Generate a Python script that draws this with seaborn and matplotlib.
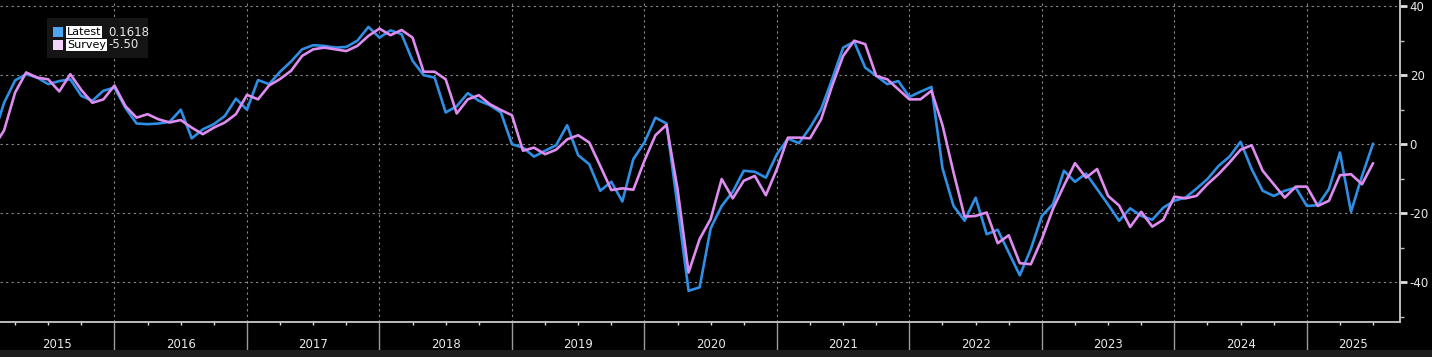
import numpy as np
import pandas as pd
import matplotlib
matplotlib.use("Agg")
import matplotlib.pyplot as plt
import matplotlib.transforms as mtransforms
from matplotlib.patches import Rectangle
import seaborn as sns

# ---- data (monthly, Jan 2015 .. Jun 2025) ----
dates = pd.date_range("2015-01-31", periods=126, freq="ME")
latest = [
    2, 12, 18.5, 20.3, 19.3, 17.4, 18.3, 18.8, 14, 12.6, 15.5, 16.4,
    10.5, 6, 5.8, 6, 6.5, 10, 1.7, 4.3, 5.8, 8.2, 13.2, 10,
    18.6, 17.4, 21, 24, 27.5, 28.7, 28.5, 28, 28.2, 30, 34, 30.9,
    33, 31.9, 24.2, 20, 19.3, 9.2, 11, 14.8, 12.6, 11.3, 9.2, 0,
    -1, -3.6, -1.9, -0.3, 5.5, -3.2, -5.8, -13.5, -10.9, -16.6, -4.3, 0.5,
    7.7, 6, -18, -42.5, -41.5, -24.4, -17.9, -13.8, -7.7, -8, -9.7, -2.9,
    1.6, 0.3, 4.8, 10.1, 18.8, 28, 29.7, 22.2, 19.8, 17.4, 18.3, 13.7,
    15.2, 16.6, -7, -17.9, -22.2, -15.5, -26.1, -24.8, -31.4, -38, -30.4, -20.8,
    -17.4, -7.7, -10.9, -8.5, -13, -17.5, -22.2, -18.6, -20.8, -21.9, -18.4, -16.4,
    -15.5, -12.9, -10.1, -6.3, -3.6, 0.7, -7.2, -13.5, -15, -13.5, -12.6, -17.9,
    -17.7, -13, -2.4, -19.6, -9.2, 0.1618,
]
survey = [
    -1, 4, 15, 20.8, 19.3, 18.8, 15.3, 20.3, 15.7, 12, 13, 17,
    11, 7.7, 8.7, 7.2, 6.3, 7, 4.8, 2.9, 4.8, 6.3, 8.7, 14.3,
    13, 17, 18.9, 21.3, 25.6, 27.5, 28, 27.5, 27, 28.5, 31.4, 33.5,
    31.6, 33.1, 30.9, 21, 21, 18.8, 8.9, 13, 14.2, 11.6, 9.9, 8.4,
    -1.9, -1, -2.9, -1.6, 1.4, 2.6, 0.5, -6.3, -13.3, -12.8, -13.2, -4.8,
    2.6, 5.6, -13, -37.2, -27.5, -21.7, -10.1, -15.7, -10.6, -9.2, -14.8, -7.2,
    1.9, 1.9, 1.7, 7.2, 16.9, 25.6, 30, 29, 19.8, 18.8, 15.9, 13,
    13, 15.5, 5.5, -8.2, -21, -20.8, -19.8, -28.7, -26.4, -34.5, -34.8, -27.5,
    -18.8, -12, -5.5, -9.7, -7.2, -15, -17.8, -24, -19.6, -23.9, -21.9, -15.2,
    -15.7, -15, -11.6, -8.7, -5.3, -1.6, -0.3, -7.7, -11.6, -15.5, -12.3, -12.3,
    -17.9, -16.4, -9, -8.7, -11.6, -5.5,
]
years = list(range(2015, 2026))
y_ticks = [40, 20, 0, -20, -40]
legend_names = ["Latest", "Survey"]
legend_values = ["0.1618", "-5.50"]

BLUE = "#2f8fe4"
PINK = "#de8cef"
FG = "#e8e8e8"
GRID = "#8a8a8a"

# month index: end of Jan 2015 = 1
mi = np.array([(d.year - 2015) * 12 + d.month for d in dates], dtype=float)
df = pd.DataFrame({"m": mi, "Latest": latest, "Survey": survey})

sns.set_theme(style="dark")
plt.rcParams["font.family"] = ["DejaVu Sans"]

W, H = 1432, 357
fig = plt.figure(figsize=(W / 100, H / 100), dpi=100, facecolor="black")
ax = fig.add_axes([0, (H - 321.5) / H, 1400 / W, 321.5 / H])
ax.set_facecolor("black")

sns.lineplot(data=df, x="m", y="Latest", ax=ax, color=BLUE, lw=1.9, zorder=3)
sns.lineplot(data=df, x="m", y="Survey", ax=ax, color=PINK, lw=1.9, zorder=4)

ax.set_xlim(1.63, 128.44)
ax.set_ylim(-51.4, 41.8)
ax.set_xlabel("")
ax.set_ylabel("")

# grid
for v in y_ticks:
    ax.axhline(v, color=GRID, lw=0.8, ls=(0, (2, 3)), zorder=1)
for i in range(1, len(years)):
    ax.axvline(12 * i, color=GRID, lw=0.8, ls=(0, (2, 3)), zorder=1)

# spines
for s in ["top", "left"]:
    ax.spines[s].set_visible(False)
for s in ["right", "bottom"]:
    ax.spines[s].set_visible(True)
    ax.spines[s].set_color("#bdbdbd")
    ax.spines[s].set_linewidth(1.4)

# y axis on right
ax.yaxis.tick_right()
ax.set_yticks(y_ticks)
ax.set_yticklabels([str(v) for v in y_ticks])
ax.set_yticks([30, 10, -10, -30, -50], minor=True)
ax.tick_params(axis="y", which="major", direction="out", length=5, width=2,
               color="#e0e0e0", labelcolor=FG, labelsize=8.5, pad=2,
               right=True, left=False)
ax.tick_params(axis="y", which="minor", direction="out", length=3, width=1,
               color="#bdbdbd", right=True, left=False)

# x axis: year separators and quarter ticks
ax.set_xticks([12 * i for i in range(1, len(years))])
ax.set_xticklabels([])
ax.set_xticks([q for q in range(3, 127, 3) if q % 12 != 0 and q > 1.63], minor=True)
ax.tick_params(axis="x", which="major", direction="out", length=26, width=1,
               color="#9a9a9a", bottom=True)
ax.tick_params(axis="x", which="minor", direction="out", length=2, width=1,
               color="#e0e0e0", bottom=True)

trans = mtransforms.blended_transform_factory(ax.transData, ax.transAxes)
x0, x1 = ax.get_xlim()
for i, yr in enumerate(years):
    a = max(12 * i, x0)
    b = min(12 * (i + 1), x1)
    ax.text((a + b) / 2, -0.071, str(yr), transform=trans, ha="center",
            va="center", color=FG, fontsize=8.5, clip_on=False)

# bottom dark strip
fig.patches.append(Rectangle((0, 0), 1, 7 / H, transform=fig.transFigure,
                             facecolor="#1e1e1e", edgecolor="none", zorder=0))

# legend box
fig.patches.append(Rectangle((47 / W, 1 - 58 / H), 101 / W, 40 / H,
                             transform=fig.transFigure, facecolor="#151515",
                             edgecolor="none", zorder=5))
sq_cols = ["#4ea6f0", "#f3d3fa"]
for j, (name, val) in enumerate(zip(legend_names, legend_values)):
    yc = 32 + j * 13
    fig.patches.append(Rectangle((53 / W, 1 - (yc + 5) / H), 10 / W, 10 / H,
                                 transform=fig.transFigure, facecolor=sq_cols[j],
                                 edgecolor="none", zorder=6))
    fig.text(67 / W, 1 - yc / H, name, color="black", fontsize=8, ha="left",
             va="center", zorder=7,
             bbox=dict(facecolor="white", edgecolor="none", pad=0.4))
    fig.text(108 / W, 1 - yc / H, val, color=FG, fontsize=8.5, ha="left",
             va="center", zorder=7)

fig.savefig("out.png", dpi=100, facecolor="black")
